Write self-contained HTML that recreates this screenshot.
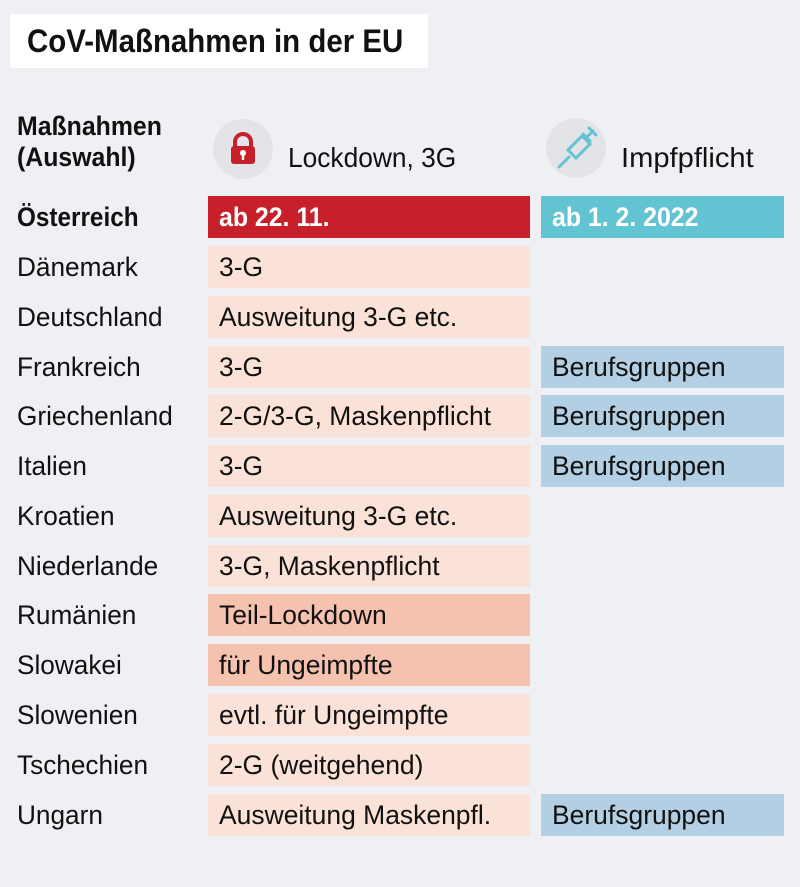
<!DOCTYPE html>
<html><head><meta charset="utf-8"><style>
body{margin:0;width:800px;height:887px;background:#eff0f4;position:relative;overflow:hidden;font-family:"Liberation Sans",sans-serif;color:#111}
.a{position:absolute}
.t{display:inline-block;transform:scaleX(0.98);transform-origin:left center;white-space:nowrap}
.lab{position:absolute;left:17px;font-size:27px;height:42px;line-height:42px}
.lab .t{transform:scaleX(0.97)}
.c1{position:absolute;left:208px;width:322px;height:42px;line-height:42px;font-size:27px;padding-left:11px;box-sizing:border-box;background:#fbe2d8}
.c2{position:absolute;left:541px;width:243px;height:42px;line-height:42px;font-size:27px;padding-left:11px;box-sizing:border-box;background:#b3cfe4}
</style></head><body>
<div class="a" style="left:10px;top:14px;width:418px;height:54px;background:#fff"></div>
<div class="a" style="left:27px;top:14px;height:54px;line-height:54px;font-size:32px;font-weight:bold"><span class="t" style="transform:scaleX(0.92)">CoV-Maßnahmen in der EU</span></div>
<div class="a" style="left:17px;top:111px;font-size:27px;font-weight:bold;line-height:31px"><span class="t" style="transform:scaleX(0.92)">Maßnahmen<br>(Auswahl)</span></div>
<div class="a" style="left:213px;top:119px;width:60px;height:60px;border-radius:50%;background:#e3e4e7"></div>
<svg class="a" style="left:228px;top:132px" width="30" height="34" viewBox="0 0 30 34"><path d="M7 15V10a8 8 0 0 1 16 0v5" fill="none" stroke="#c8202a" stroke-width="4"/><rect x="3" y="14" width="24" height="18" rx="3" fill="#c8202a"/><circle cx="15" cy="21" r="3" fill="#fff"/><rect x="13.8" y="22" width="2.4" height="6" fill="#fff"/></svg>
<div class="a" style="left:288px;top:140px;font-size:28px;line-height:36px"><span class="t" style="transform:scaleX(0.94)">Lockdown, 3G</span></div>
<div class="a" style="left:546px;top:118px;width:60px;height:60px;border-radius:50%;background:#e3e4e7"></div>
<svg class="a" style="left:556px;top:124px" width="44" height="46" viewBox="0 0 44 46"><g stroke="#62c3d2" stroke-width="3" fill="none" stroke-linecap="round"><path d="M3 43l10-10"/><path d="M12 26l8 8 14-14-8-8z"/><path d="M27 10l7 7"/><path d="M30 14l7-7"/><path d="M33 4l7 7"/></g></svg>
<div class="a" style="left:621px;top:140px;font-size:28px;line-height:36px"><span class="t" style="transform:scaleX(1.04)">Impfpflicht</span></div>

<div class="lab" style="top:196px;font-weight:bold"><span class="t" style="transform:scaleX(0.9)">Österreich</span></div>
<div class="c1" style="top:196px;background:#c8202a;color:#fff;font-weight:bold"><span class="t" style="transform:scaleX(0.92)">ab 22. 11.</span></div>
<div class="c2" style="top:196px;background:#62c3d2;color:#fff;font-weight:bold"><span class="t" style="transform:scaleX(0.92)">ab 1. 2. 2022</span></div>

<div class="lab" style="top:246px"><span class="t">Dänemark</span></div><div class="c1" style="top:246px"><span class="t">3-G</span></div>
<div class="lab" style="top:296px"><span class="t">Deutschland</span></div><div class="c1" style="top:296px"><span class="t">Ausweitung 3-G etc.</span></div>
<div class="lab" style="top:346px"><span class="t">Frankreich</span></div><div class="c1" style="top:346px"><span class="t">3-G</span></div><div class="c2" style="top:346px"><span class="t">Berufsgruppen</span></div>
<div class="lab" style="top:395px"><span class="t">Griechenland</span></div><div class="c1" style="top:395px"><span class="t">2-G/3-G, Maskenpflicht</span></div><div class="c2" style="top:395px"><span class="t">Berufsgruppen</span></div>
<div class="lab" style="top:445px"><span class="t">Italien</span></div><div class="c1" style="top:445px"><span class="t">3-G</span></div><div class="c2" style="top:445px"><span class="t">Berufsgruppen</span></div>
<div class="lab" style="top:495px"><span class="t">Kroatien</span></div><div class="c1" style="top:495px"><span class="t">Ausweitung 3-G etc.</span></div>
<div class="lab" style="top:545px"><span class="t">Niederlande</span></div><div class="c1" style="top:545px"><span class="t">3-G, Maskenpflicht</span></div>
<div class="lab" style="top:594px"><span class="t">Rumänien</span></div><div class="c1" style="top:594px;background:#f4c2ae"><span class="t">Teil-Lockdown</span></div>
<div class="lab" style="top:644px"><span class="t">Slowakei</span></div><div class="c1" style="top:644px;background:#f4c2ae"><span class="t">für Ungeimpfte</span></div>
<div class="lab" style="top:694px"><span class="t">Slowenien</span></div><div class="c1" style="top:694px"><span class="t">evtl. für Ungeimpfte</span></div>
<div class="lab" style="top:744px"><span class="t">Tschechien</span></div><div class="c1" style="top:744px"><span class="t">2-G (weitgehend)</span></div>
<div class="lab" style="top:794px"><span class="t">Ungarn</span></div><div class="c1" style="top:794px"><span class="t">Ausweitung Maskenpfl.</span></div><div class="c2" style="top:794px"><span class="t">Berufsgruppen</span></div>
</body></html>
